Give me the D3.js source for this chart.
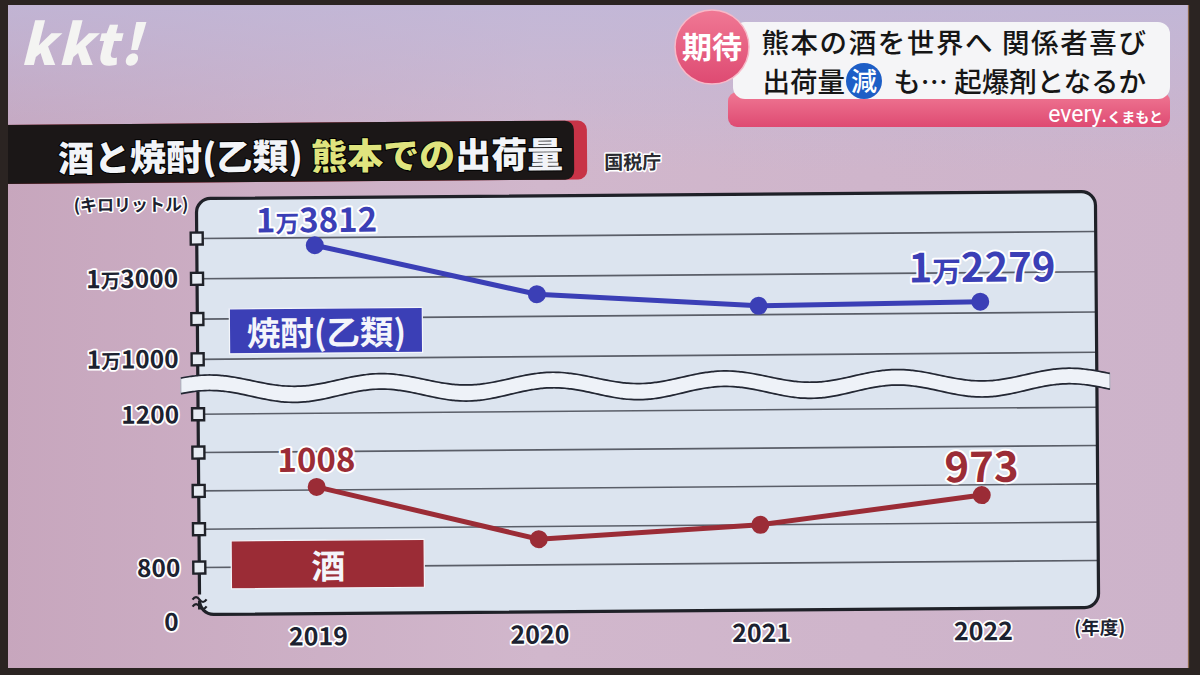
<!DOCTYPE html>
<html><head><meta charset="utf-8">
<script src="https://cdn.jsdelivr.net/npm/d3@7"></script>
<style>
html,body{margin:0;padding:0;background:#000;}
svg{display:block;}
text{font-family:"Noto Sans CJK JP","Noto Sans",sans-serif;}
</style></head><body>
<svg id="c" width="1200" height="675"></svg>
<script>
// ---------- data ----------
const years = ["2019", "2020", "2021", "2022"];
const shochu = [13812, 12550, 12220, 12279];   // 焼酎(乙類) kL
const sake = [1008, 867, 900, 973];            // 酒 kL
const upperTicks = [14000, 13000, 12000, 11000];
const upperLabeled = [13000, 11000];
const lowerTicks = [1200, 1100, 1000, 900, 800];
const lowerLabeled = [1200, 800];
const zeroLabel = ["0"];
const labeledYears = ["2019", "2022"];
const seriesNames = ["焼酎(乙類)", "酒"];
const unitLabel = "(キロリットル)";
const yearUnit = "(年度)";
const sourceLabel = "国税庁";
const titleParts = [["酒と焼酎(乙類) ", "#f2f4f8"], ["熊本での", "#dfe47e"], ["出荷量", "#f2f4f8"]];
const captionBadge = "期待";
const captionLine1 = "熊本の酒を世界へ 関係者喜び";
const captionLine2a = "出荷量";
const captionLine2b = "減";
const captionLine2c = "も… 起爆剤となるか";
const programName = ["every.", "くまもと"];
const logoText = "kkt!";

// ---------- setup ----------
const svg = d3.select("#c");
const defs = svg.append("defs");
const bgGrad = defs.append("linearGradient").attr("id", "bg").attr("x1", 0).attr("x2", 1).attr("y1", 0).attr("y2", 0);
bgGrad.append("stop").attr("offset", "0%").attr("stop-color", "#c7a6bd");
bgGrad.append("stop").attr("offset", "45%").attr("stop-color", "#d1b7cc");
bgGrad.append("stop").attr("offset", "100%").attr("stop-color", "#cdb3ca");
const topGrad = defs.append("linearGradient").attr("id", "topbg").attr("x1", 0).attr("x2", 0).attr("y1", 0).attr("y2", 1);
topGrad.append("stop").attr("offset", "0%").attr("stop-color", "#bfb8da").attr("stop-opacity", 0.8);
topGrad.append("stop").attr("offset", "100%").attr("stop-color", "#bfb8da").attr("stop-opacity", 0);
const pinkGrad = defs.append("linearGradient").attr("id", "pink").attr("x1", 0).attr("x2", 0).attr("y1", 0).attr("y2", 1);
pinkGrad.append("stop").attr("offset", "0%").attr("stop-color", "#f07894");
pinkGrad.append("stop").attr("offset", "100%").attr("stop-color", "#de4a72");

svg.append("rect").attr("width", 1200).attr("height", 675).attr("fill", "url(#bg)");
svg.append("rect").attr("width", 1200).attr("height", 170).attr("fill", "url(#topbg)");

const g = svg.append("g").attr("transform", "rotate(-0.45 650 400)");

// scales
const x = d3.scalePoint().domain(years).range([316, 981]);
const yU = d3.scaleLinear().domain([11000, 14000]).range([355.8, 235]);
const yL = d3.scaleLinear().domain([800, 1200]).range([564, 410.7]);

const P = {l: 198, r: 1097, t: 195, b: 611, rr: 14};
const dark = "#1f2128";

// ---------- title bar ----------
g.append("rect").attr("x", -20).attr("y", 120).attr("width", 609).attr("height", 59).attr("rx", 9).attr("fill", "#c83347");
g.append("rect").attr("x", -20).attr("y", 120).attr("width", 596).attr("height", 59).attr("rx", 9).attr("fill", "#1b1717");
const title = g.append("text").attr("x", 60).attr("y", 167).attr("font-size", 36).attr("font-weight", 900)
  .attr("stroke", "#000").attr("stroke-width", 2).attr("paint-order", "stroke");
title.selectAll("tspan").data(titleParts).join("tspan").attr("fill", d => d[1]).text(d => d[0]);
g.append("text").attr("x", 606).attr("y", 169).attr("font-size", 19).attr("font-weight", 700)
  .attr("fill", "#2a2a30").attr("stroke", "#fff").attr("stroke-width", 3).attr("paint-order", "stroke")
  .attr("stroke-linejoin", "round").text(sourceLabel);

// ---------- panel ----------
g.append("rect").attr("x", P.l).attr("y", P.t).attr("width", P.r - P.l).attr("height", P.b - P.t)
  .attr("rx", P.rr).attr("fill", "#dce4ef");

// gridlines
const gridG = g.append("g");
gridG.selectAll("line.u").data(upperTicks).join("line").attr("class", "u")
  .attr("x1", P.l).attr("x2", P.r).attr("y1", d => yU(d)).attr("y2", d => yU(d))
  .attr("stroke", "#5a5e68").attr("stroke-width", 1.6);
gridG.selectAll("line.l").data(lowerTicks).join("line").attr("class", "l")
  .attr("x1", P.l).attr("x2", P.r).attr("y1", d => yL(d)).attr("y2", d => yL(d))
  .attr("stroke", "#5a5e68").attr("stroke-width", 1.6);

// border with break gap on the left side
const bp = d3.path();
const gapTop = 591, gapBot = 606;
bp.moveTo(P.l, gapTop);
bp.lineTo(P.l, P.t + P.rr);
bp.arcTo(P.l, P.t, P.l + P.rr, P.t, P.rr);
bp.lineTo(P.r - P.rr, P.t);
bp.arcTo(P.r, P.t, P.r, P.t + P.rr, P.rr);
bp.lineTo(P.r, P.b - P.rr);
bp.arcTo(P.r, P.b, P.r - P.rr, P.b, P.rr);
bp.lineTo(P.l + P.rr, P.b);
bp.arcTo(P.l, P.b, P.l, P.b - P.rr, P.rr);
bp.lineTo(P.l, gapBot);
g.append("path").attr("d", bp.toString()).attr("fill", "none").attr("stroke", dark).attr("stroke-width", 3.2);
// break symbol on axis
[594.5, 601.5].forEach(yy => {
  g.append("path").attr("d", `M${P.l - 7},${yy + 1.5} q3.5,-5 7,0 t7,0`)
    .attr("fill", "none").attr("stroke", dark).attr("stroke-width", 2.2);
});

// tick squares
const sq = 12;
g.selectAll("rect.sq").data(upperTicks.map(yU).concat(lowerTicks.map(yL))).join("rect").attr("class", "sq")
  .attr("x", P.l - sq / 2).attr("y", d => d - sq / 2).attr("width", sq).attr("height", sq)
  .attr("fill", "#e6ebf2").attr("stroke", dark).attr("stroke-width", 2.4);

// tick labels
function manParts(v, ms) {
  if (v >= 10000) return [{t: String(Math.floor(v / 10000)), s: 1}, {t: "万", s: ms}, {t: String(v % 10000).padStart(4, "0"), s: 1}];
  return [{t: String(v), s: 1}];
}
const TF = 24.5;
const tickStyle = sel => sel.attr("font-size", TF).attr("font-weight", 700).attr("fill", "#1c2230")
  .attr("stroke", "#fff").attr("stroke-width", 3.5).attr("paint-order", "stroke").attr("stroke-linejoin", "round")
  .attr("text-anchor", "end").attr("x", 179);
const tl = g.append("g");
tl.selectAll("text.u").data(upperLabeled).join("text").attr("class", "u").call(tickStyle)
  .attr("y", d => yU(d) + 8.5)
  .selectAll("tspan").data(d => manParts(d, 0.8)).join("tspan").attr("font-size", p => TF * p.s).text(p => p.t);
tl.selectAll("text.l").data(lowerLabeled).join("text").attr("class", "l").call(tickStyle)
  .attr("y", d => yL(d) + 9).text(d => d);
tl.selectAll("text.z").data(zeroLabel).join("text").attr("class", "z").call(tickStyle)
  .attr("x", 177).attr("y", 627).text(d => d);
g.append("text").attr("x", 190).attr("y", 207).attr("text-anchor", "end").attr("font-size", 17).attr("font-weight", 700)
  .attr("fill", "#1c2230").attr("stroke", "#fff").attr("stroke-width", 3).attr("paint-order", "stroke")
  .attr("stroke-linejoin", "round").text(unitLabel);

// x axis
const xAxis = g.append("g").attr("transform", `translate(0,${P.b})`)
  .call(d3.axisBottom(x).tickSize(0).tickPadding(14));
xAxis.select(".domain").remove();
xAxis.selectAll("text").attr("font-size", 25).attr("font-weight", 700).attr("fill", "#1c2230")
  .attr("font-family", "'Noto Sans CJK JP',sans-serif")
  .attr("stroke", "#fff").attr("stroke-width", 3.5).attr("paint-order", "stroke").attr("stroke-linejoin", "round");
g.append("text").attr("x", 1098).attr("y", 638).attr("text-anchor", "middle").attr("font-size", 18.5).attr("font-weight", 700)
  .attr("fill", "#1c2230").attr("stroke", "#fff").attr("stroke-width", 3).attr("paint-order", "stroke")
  .attr("stroke-linejoin", "round").text(yearUnit);

// break band
const P0 = 172, ph = 467;
const waveXs = d3.range(181, 1111, 3).concat([1110]);
const wave = (c, A) => waveXs.map(xx => [xx, c + A * Math.cos(2 * Math.PI * (xx - ph) / P0)]);
const up = wave(377.5, 6), lo = wave(393.3, 6.3);
const band = up.concat(lo.slice().reverse());
g.append("path").attr("d", d3.line()(band) + "Z").attr("fill", "#eef2f8").attr("stroke", "#a7aeb9").attr("stroke-width", 1);
g.append("path").attr("d", d3.line().curve(d3.curveBasis)(up)).attr("fill", "none").attr("stroke", "#232733").attr("stroke-width", 1.7);
g.append("path").attr("d", d3.line().curve(d3.curveBasis)(lo)).attr("fill", "none").attr("stroke", "#232733").attr("stroke-width", 1.7);

// legend boxes
const blue = "#3b3fb6", red = "#9b2c36";
g.append("rect").attr("x", 230).attr("y", 305.5).attr("width", 193).attr("height", 45).attr("fill", blue)
  .attr("stroke", "#f3f5fa").attr("stroke-width", 1.2);
g.append("text").attr("x", 327).attr("y", 342.5).attr("text-anchor", "middle").attr("font-size", 33.5).attr("font-weight", 700)
  .attr("fill", "#f4f5fb").text(seriesNames[0]);
g.append("rect").attr("x", 230).attr("y", 537.5).attr("width", 193).attr("height", 48).attr("fill", red)
  .attr("stroke", "#f3f5fa").attr("stroke-width", 1.2);
g.append("text").attr("x", 327).attr("y", 576).attr("text-anchor", "middle").attr("font-size", 34).attr("font-weight", 700)
  .attr("fill", "#f4f5fb").text(seriesNames[1]);

// series
function drawSeries(vals, y, color) {
  const pts = years.map((yr, i) => [x(yr), y(vals[i])]);
  g.append("path").attr("d", d3.line()(pts)).attr("fill", "none").attr("stroke", color).attr("stroke-width", 5);
  g.selectAll(null).data(pts).join("circle").attr("cx", d => d[0]).attr("cy", d => d[1]).attr("r", 9).attr("fill", color);
}
drawSeries(shochu, yU, blue);
drawSeries(sake, yL, red);

// value labels
const lblStyle = (sel, color, fs) => sel.attr("text-anchor", "middle").attr("font-weight", 700).attr("fill", color)
  .attr("font-size", fs).attr("stroke", "#fff").attr("stroke-width", 4).attr("paint-order", "stroke").attr("stroke-linejoin", "round");
const shoLbl = [{yr: "2019", fs: 33, by: 229.5}, {yr: "2022", fs: 40, by: 284.5}];
shoLbl.forEach(o => {
  const v = shochu[years.indexOf(o.yr)];
  g.append("text").call(lblStyle, blue, o.fs).attr("x", x(o.yr) + 2).attr("y", o.by)
    .selectAll("tspan").data(manParts(v, 0.72)).join("tspan").attr("font-size", p => o.fs * p.s).text(p => p.t);
});
const sakLbl = [{yr: "2019", fs: 33, by: 469}, {yr: "2022", fs: 42, by: 484.5}];
sakLbl.forEach(o => {
  const v = sake[years.indexOf(o.yr)];
  g.append("text").call(lblStyle, red, o.fs).attr("x", x(o.yr)).attr("y", o.by).text(v);
});

// ---------- bezel ----------
svg.append("rect").attr("x", 0).attr("y", 0).attr("width", 1200).attr("height", 5).attr("fill", "#2b2422");
svg.append("rect").attr("x", 0).attr("y", 0).attr("width", 8).attr("height", 675).attr("fill", "#2b2422");
svg.append("rect").attr("x", 1189).attr("y", 0).attr("width", 11).attr("height", 675).attr("fill", "#2b2422");
svg.append("rect").attr("x", 0).attr("y", 668).attr("width", 1200).attr("height", 7).attr("fill", "#2b2422");
svg.append("line").attr("x1", 1188.5).attr("x2", 1188.5).attr("y1", 5).attr("y2", 668).attr("stroke", "#8a6648").attr("stroke-width", 1.2);

// ---------- overlay: logo ----------
svg.append("text").attr("x", 20).attr("y", 65).attr("font-family", "Lato, sans-serif").attr("font-style", "italic")
  .attr("font-weight", 900).attr("font-size", 56).attr("letter-spacing", 2).attr("fill", "#f4f4f2").text(logoText);

// ---------- overlay: caption ----------
const cap = svg.append("g");
const CF = 27.5;
cap.append("rect").attr("x", 728).attr("y", 92).attr("width", 442).attr("height", 35).attr("rx", 9).attr("fill", "url(#pink)");
cap.append("rect").attr("x", 733).attr("y", 22).attr("width", 437).attr("height", 77).attr("rx", 12).attr("fill", "#f5f5f7");
cap.append("circle").attr("cx", 712).attr("cy", 47).attr("r", 37).attr("fill", "url(#pink)").attr("stroke", "#f7b9c8").attr("stroke-width", 1.5);
cap.append("text").attr("x", 712).attr("y", 58).attr("text-anchor", "middle").attr("font-size", 30).attr("font-weight", 700)
  .attr("fill", "#fff").text(captionBadge);
cap.append("text").attr("x", 1147.5).attr("y", 52.5).attr("text-anchor", "end").attr("font-size", CF).attr("font-weight", 500)
  .attr("letter-spacing", 1.6).attr("fill", "#161616").text(captionLine1);
cap.append("text").attr("x", 1146).attr("y", 92).attr("text-anchor", "end").attr("font-size", CF).attr("font-weight", 500)
  .attr("fill", "#161616").text(captionLine2c);
cap.append("text").attr("x", 845).attr("y", 92).attr("text-anchor", "end").attr("font-size", CF).attr("font-weight", 500)
  .attr("fill", "#161616").text(captionLine2a);
cap.append("circle").attr("cx", 864).attr("cy", 81).attr("r", 18).attr("fill", "#1d5ec6");
cap.append("text").attr("x", 864).attr("y", 90.5).attr("text-anchor", "middle").attr("font-size", 26).attr("font-weight", 500)
  .attr("fill", "#fff").text(captionLine2b);
const pn = cap.append("text").attr("x", 1163).attr("y", 122).attr("text-anchor", "end").attr("fill", "#fff");
pn.append("tspan").attr("font-size", 23).attr("font-family", "Roboto, sans-serif").text(programName[0]);
pn.append("tspan").attr("font-size", 14).attr("font-weight", 700).text(programName[1]);
</script>
</body></html>
